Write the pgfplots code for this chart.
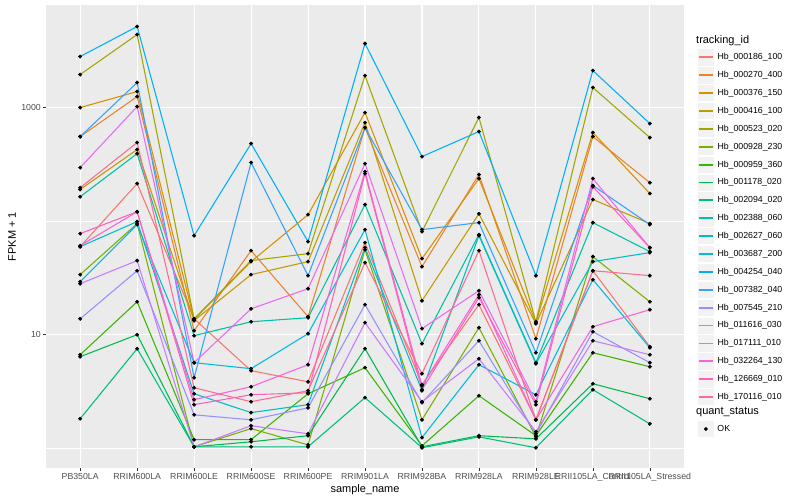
\documentclass[border=0pt]{standalone}
\usepackage{fontspec}
\setmainfont{Liberation Sans}
\usepackage{pgfplots}
\usepackage{pgfplotstable}
\pgfplotsset{compat=1.18}
\definecolor{c1}{HTML}{F8766D}
\definecolor{c2}{HTML}{EA8331}
\definecolor{c3}{HTML}{D89000}
\definecolor{c4}{HTML}{C09B00}
\definecolor{c5}{HTML}{A3A500}
\definecolor{c6}{HTML}{7CAE00}
\definecolor{c7}{HTML}{39B600}
\definecolor{c8}{HTML}{00BB4E}
\definecolor{c9}{HTML}{00BF7D}
\definecolor{c10}{HTML}{00C1A3}
\definecolor{c11}{HTML}{00BFC4}
\definecolor{c12}{HTML}{00BAE0}
\definecolor{c13}{HTML}{00B0F6}
\definecolor{c14}{HTML}{35A2FF}
\definecolor{c15}{HTML}{9590FF}
\definecolor{c16}{HTML}{C77CFF}
\definecolor{c17}{HTML}{E76BF3}
\definecolor{c18}{HTML}{FA62DB}
\definecolor{c19}{HTML}{FF62BC}
\definecolor{c20}{HTML}{FF6C91}
\definecolor{panelbg}{HTML}{EBEBEB}
\definecolor{keybg}{HTML}{F2F2F2}
\definecolor{grey30}{HTML}{4D4D4D}
\definecolor{grey20}{HTML}{333333}

\pgfplotstableread{
x s1 s2 s3 s4 s5 s6 s7 s8 s9 s10 s11 s12 s13 s14 s15 s16 s17 s18 s19 s20
0 59.6 555 1000 190 1953 33.8 6.66 6.40 1.82 164 59.6 29.3 2814 555 13.8 28.1 296 60.8 77.6 197
1 214 1250 1384 427 4398 95.1 19.5 10.0 7.53 393 99 93.2 5172 1661 36.6 44.9 1020 121 121 492
2 13.8 10.84 13.6 13.3 13.8 1.03 1.19 1.03 1.03 9.80 3.02 5.67 74.5 4.18 1.97 1.03 5.67 2.68 2.42 3.41
3 4.82 55.0 44.0 33.8 44.9 1.49 1.19 1.14 1.03 13.0 2.06 5.02 482 328 1.78 1.58 16.9 3.48 2.96 2.57
4 3.85 14.4 114 44.0 51.7 1.07 3.02 1.29 1.03 14.1 2.42 10.2 66.0 33.1 2.27 1.34 25.4 5.44 3.08 3.21
5 64.7 666 904 738 1914 56.1 5.12 7.53 2.79 140 58.4 84.2 3664 666 18.4 12.75 321 273 262 43.1
6 3.63 39.7 46.7 19.9 80.8 1.78 1.05 1.03 1.01 8.33 3.21 1.24 370 84.2 2.52 2.57 11.3 3.55 3.28 4.53
7 18.4 257 237 116 817 11.53 2.90 1.29 1.26 76.0 74.5 5.44 615 97 8.85 6.14 24.4 22.5 21.2 55.0
8 1.78 9.22 12.75 12.5 13.0 1.26 1.29 1.21 1.01 5.67 5.55 2.96 33.1 6.94 1.34 1.40 2.57 1.78 2.42 1.78
9 36.6 555 602 155 1501 48.7 6.94 3.70 3.28 97 44.0 30.5 2118 206 10.63 8.85 237 11.76 201 36.6
10 7.84 218 175 95.1 544 19.5 5.22 2.73 1.64 53.9 52.8 7.68 723 93.2 5.67 6.66 58.4 16.6 58.4 33.1
}\datatable

\begin{document}
\begin{tikzpicture}
\useasboundingbox (0,0) rectangle (800bp,500bp);
\begin{axis}[
  at={(46bp,32bp)}, anchor=south west, scale only axis,
  width=638bp, height=463bp,
  ymode=log, ymin=0.67, ymax=8000, xmin=-0.6, xmax=10.6,
  xtick={0,...,10},
  xticklabels={PB350LA,RRIM600LA,RRIM600LE,RRIM600SE,RRIM600PE,RRIM901LA,RRIM928BA,RRIM928LA,RRIM928LE,RRII105LA\_Control,RRII105LA\_Stressed},
  ytick={10,1000}, yticklabels={10,1000}, minor ytick={1,100},
  xmajorgrids, ymajorgrids, yminorgrids,
  major grid style={white, line width=1.07bp},
  minor grid style={white, line width=0.53bp},
  axis background/.style={fill=panelbg},
  axis line style={draw=none},
  tick align=outside, major tick length=2.75bp, minor tick length=0pt,
  tick style={grey20, line width=0.53bp},
  xtick pos=left, ytick pos=left,
  ticklabel style={font=\fontsize{8.8}{10}\selectfont, text=grey30},
  xticklabel style={inner sep=0pt, yshift=-2.2bp, anchor=north},
  yticklabel style={inner sep=0pt, xshift=-2.2bp, anchor=east},
  xlabel={sample\_name}, ylabel={FPKM + 1},
  every axis x label/.style={at={(axis description cs:0.5,-0.0475)}, anchor=center, font=\fontsize{11}{13}\selectfont},
  every axis y label/.style={at={(axis description cs:-0.0533,0.5)}, rotate=90, anchor=center, font=\fontsize{11}{13}\selectfont},
  legend style={at={(axis description cs:1.0204,0.9063)}, anchor=north west, draw=none, fill=none,
    inner sep=0pt, outer sep=0pt, row sep=0pt, column sep=2.6bp,
    font=\fontsize{8.8}{10}\selectfont, nodes={inner sep=0pt, outer sep=0pt}},
  legend cell align=left,
  legend image code/.code={
    \fill[keybg, draw=white, line width=0.6bp] (0bp,-8.64bp) rectangle (17.28bp,8.64bp);
    \draw[#1, line width=1.8bp] (1.2bp,0bp) -- (16.1bp,0bp);
  },
  ln/.style={no markers, line width=1.07bp},
  pt/.style={only marks, mark=*, mark size=1.75bp, black, mark options={solid, black}, forget plot},
]
\addplot[ln, c1] table[x=x,y=s1]{\datatable}; \addlegendentry{Hb\_000186\_100}
\addplot[ln, c2] table[x=x,y=s2]{\datatable}; \addlegendentry{Hb\_000270\_400}
\addplot[ln, c3] table[x=x,y=s3]{\datatable}; \addlegendentry{Hb\_000376\_150}
\addplot[ln, c4] table[x=x,y=s4]{\datatable}; \addlegendentry{Hb\_000416\_100}
\addplot[ln, c5] table[x=x,y=s5]{\datatable}; \addlegendentry{Hb\_000523\_020}
\addplot[ln, c6] table[x=x,y=s6]{\datatable}; \addlegendentry{Hb\_000928\_230}
\addplot[ln, c7] table[x=x,y=s7]{\datatable}; \addlegendentry{Hb\_000959\_360}
\addplot[ln, c8] table[x=x,y=s8]{\datatable}; \addlegendentry{Hb\_001178\_020}
\addplot[ln, c9] table[x=x,y=s9]{\datatable}; \addlegendentry{Hb\_002094\_020}
\addplot[ln, c10] table[x=x,y=s10]{\datatable}; \addlegendentry{Hb\_002388\_060}
\addplot[ln, c11] table[x=x,y=s11]{\datatable}; \addlegendentry{Hb\_002627\_060}
\addplot[ln, c12] table[x=x,y=s12]{\datatable}; \addlegendentry{Hb\_003687\_200}
\addplot[ln, c13] table[x=x,y=s13]{\datatable}; \addlegendentry{Hb\_004254\_040}
\addplot[ln, c14] table[x=x,y=s14]{\datatable}; \addlegendentry{Hb\_007382\_040}
\addplot[ln, c15] table[x=x,y=s15]{\datatable}; \addlegendentry{Hb\_007545\_210}
\addplot[ln, c16] table[x=x,y=s16]{\datatable}; \addlegendentry{Hb\_011616\_030}
\addplot[ln, c17] table[x=x,y=s17]{\datatable}; \addlegendentry{Hb\_017111\_010}
\addplot[ln, c18] table[x=x,y=s18]{\datatable}; \addlegendentry{Hb\_032264\_130}
\addplot[ln, c19] table[x=x,y=s19]{\datatable}; \addlegendentry{Hb\_126669\_010}
\addplot[ln, c20] table[x=x,y=s20]{\datatable}; \addlegendentry{Hb\_170116\_010}
\addplot[pt] table[x=x,y=s1]{\datatable};
\addplot[pt] table[x=x,y=s2]{\datatable};
\addplot[pt] table[x=x,y=s3]{\datatable};
\addplot[pt] table[x=x,y=s4]{\datatable};
\addplot[pt] table[x=x,y=s5]{\datatable};
\addplot[pt] table[x=x,y=s6]{\datatable};
\addplot[pt] table[x=x,y=s7]{\datatable};
\addplot[pt] table[x=x,y=s8]{\datatable};
\addplot[pt] table[x=x,y=s9]{\datatable};
\addplot[pt] table[x=x,y=s10]{\datatable};
\addplot[pt] table[x=x,y=s11]{\datatable};
\addplot[pt] table[x=x,y=s12]{\datatable};
\addplot[pt] table[x=x,y=s13]{\datatable};
\addplot[pt] table[x=x,y=s14]{\datatable};
\addplot[pt] table[x=x,y=s15]{\datatable};
\addplot[pt] table[x=x,y=s16]{\datatable};
\addplot[pt] table[x=x,y=s17]{\datatable};
\addplot[pt] table[x=x,y=s18]{\datatable};
\addplot[pt] table[x=x,y=s19]{\datatable};
\addplot[pt] table[x=x,y=s20]{\datatable};
\end{axis}
\node[anchor=west, inner sep=0pt, font=\fontsize{11}{13}\selectfont] at (696bp,459bp) {tracking\_id};
\node[anchor=west, inner sep=0pt, font=\fontsize{11}{13}\selectfont] at (696bp,88bp) {quant\_status};
\begin{axis}[
  at={(697bp,62.36bp)}, anchor=south west, scale only axis, width=60bp, height=17.28bp,
  hide axis, xmin=0, xmax=1, ymin=0, ymax=1,
  legend style={at={(0,0.5)}, anchor=west, draw=none, fill=none, inner sep=0pt, outer sep=0pt,
    column sep=2.6bp, font=\fontsize{8.8}{10}\selectfont, nodes={inner sep=0pt, outer sep=0pt}},
  legend image code/.code={
    \fill[keybg, draw=white, line width=0.6bp] (0bp,-8.64bp) rectangle (17.28bp,8.64bp);
    \fill[black] (8.64bp,0bp) circle (1.75bp);
  },
]
\addlegendimage{black}
\addlegendentry{OK}
\end{axis}
\end{tikzpicture}
\end{document}
